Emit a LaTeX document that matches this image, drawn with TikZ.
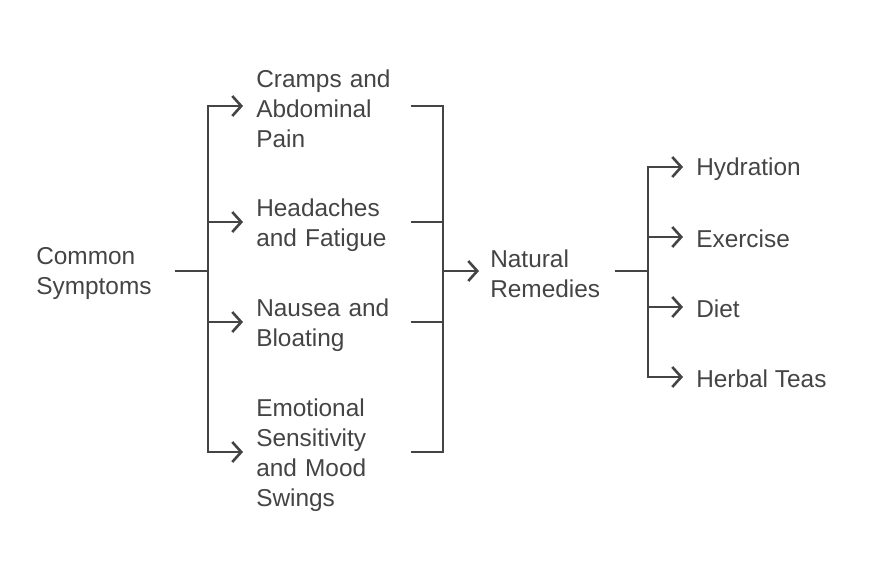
\documentclass[tikz,border=0pt]{standalone}
\usepackage{fontspec}
\setmainfont{Liberation Sans}
\usetikzlibrary{arrows.meta, positioning}
\definecolor{ink}{HTML}{444444}

\begin{document}
\begin{tikzpicture}[x=1pt, y=-1pt, line width=2.6pt, draw=ink,
	txt/.style={anchor=west, align=left, inner sep=0pt, text=ink,
		font=\fontsize{24.4}{30}\selectfont},
	arr/.style={-{Straight Barb[length=9pt, width=20pt]}, shorten >=12pt}]
	\useasboundingbox (0,0) rectangle (873,573);

	% Nodes (text sits 3pt below its connector)
	\node[txt, text width=137pt] (CS) at (35,274) {Common\\Symptoms};
	\node[txt, text width=153pt] (C1) at (255,109) {Cramps and\\Abdominal\\Pain};
	\node[txt, text width=153pt] (C2) at (255,225) {Headaches\\and Fatigue};
	\node[txt, text width=153pt] (C3) at (255,325) {Nausea and\\Bloating};
	\node[txt, text width=153pt] (C4) at (255,455) {Emotional\\Sensitivity\\and Mood\\Swings};
	\node[txt, text width=123pt] (NR) at (489,274) {Natural\\Remedies};
	\node[txt] (R1) at (695,169) {Hydration};
	\node[txt] (R2) at (695,239) {Exercise};
	\node[txt] (R3) at (695,309) {Diet};
	\node[txt] (R4) at (695,379) {Herbal Teas};

	% Junctions
	\coordinate (J1) at (208,271);
	\coordinate (J2) at (443,271);
	\coordinate (J3) at (648,271);

	% Connectors
	\draw ([yshift=3pt]CS.east) -- (J1);
	\draw[arr] (J1) |- ([yshift=3pt]C1.west);
	\draw[arr] (J1) |- ([yshift=3pt]C2.west);
	\draw[arr] (J1) |- ([yshift=3pt]C3.west);
	\draw[arr] (J1) |- ([yshift=3pt]C4.west);
	\draw ([yshift=3pt]C1.east) -| (J2);
	\draw ([yshift=3pt]C2.east) -| (J2);
	\draw ([yshift=3pt]C3.east) -| (J2);
	\draw ([yshift=3pt]C4.east) -| (J2);
	\draw[arr, shorten >=10pt] (J2) -- ([yshift=3pt]NR.west);
	\draw ([yshift=3pt]NR.east) -- (J3);
	\draw[arr] (J3) |- ([yshift=2pt]R1.west);
	\draw[arr] (J3) |- ([yshift=2pt]R2.west);
	\draw[arr] (J3) |- ([yshift=2pt]R3.west);
	\draw[arr] (J3) |- ([yshift=2pt]R4.west);
\end{tikzpicture}
\end{document}
